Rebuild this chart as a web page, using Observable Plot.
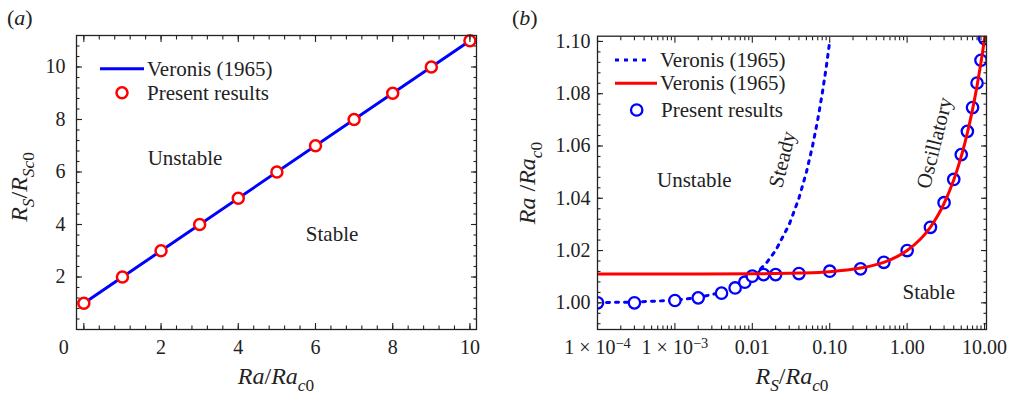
<!DOCTYPE html>
<html><head><meta charset="utf-8">
<script src="https://cdn.jsdelivr.net/npm/d3@7"></script>
<script src="https://cdn.jsdelivr.net/npm/@observablehq/plot@0.6"></script>
<style>
body{margin:0;background:#fff;}
#wrap{display:flex;width:1010px;height:396px;overflow:hidden;}
</style></head><body><div id="wrap"></div><script>
// ---------------- Panel (a) data ----------------
const raPresentA = [0, 1, 2, 3, 4, 5, 6, 7, 8, 9, 10];
const rsPresentA = [1, 2, 3, 4, 5, 6, 7, 8, 9, 10, 11];
const raVeronisA = [0, 10];
const rsVeronisA = [1, 11];
const xTicksA = [0, 2, 4, 6, 8, 10];
const yTicksA = [2, 4, 6, 8, 10];
const annTextA = ["Unstable", "Stable"];
const annXA = [2.62, 6.43];
const annYA = [6.54, 3.61];

// ---------------- Panel (b) data ----------------
const rsPresentB = [1e-4, 3e-4, 1e-3, 2e-3, 4e-3, 6e-3, 8e-3, 0.01, 0.014, 0.02, 0.04, 0.1, 0.25, 0.5, 1, 2, 3, 4, 5, 6, 7, 8, 9, 10];
const raPresentB = [1.000, 1.000, 1.0009, 1.0019, 1.0037, 1.0057, 1.0079, 1.0102, 1.0108, 1.0108, 1.0112, 1.0121, 1.0130, 1.0155, 1.0200, 1.0289, 1.0383, 1.0472, 1.0567, 1.0656, 1.0747, 1.0841, 1.0928, 1.1011];
const rsSteadyB = [1e-4, 3e-4, 1e-3, 2e-3, 4e-3, 6e-3, 8e-3, 0.01, 0.015, 0.02, 0.03, 0.04, 0.05, 0.06, 0.07, 0.08, 0.09, 0.1];
const raSteadyB = [1.0001, 1.0003, 1.001, 1.002, 1.004, 1.006, 1.008, 1.010, 1.015, 1.020, 1.030, 1.040, 1.050, 1.060, 1.070, 1.080, 1.090, 1.100];
const rsOscB = [1e-4, 1e-3, 0.01, 0.04, 0.1, 0.25, 0.5, 0.75, 1, 1.5, 2, 2.5, 3, 4, 5, 6, 7, 8, 9, 10, 10.6];
const raOscB = [1.011, 1.011, 1.0111, 1.0114, 1.0119, 1.0133, 1.0155, 1.0178, 1.0200, 1.0245, 1.0290, 1.0335, 1.0380, 1.0470, 1.0560, 1.0650, 1.0740, 1.0830, 1.0920, 1.1010, 1.1065];
const xTicksB = [1e-4, 1e-3, 0.01, 0.1, 1, 10];
const xTickLabelsB = ["1 × 10^−4", "1 × 10^−3", "0.01", "0.10", "1.00", "10.00"];
const yTicksB = [1.00, 1.02, 1.04, 1.06, 1.08, 1.10];
const annTextB = ["Unstable", "Steady", "Oscillatory", "Stable"];
const annXB = [1.78e-3, 0.0245, 2.26, 1.9];
const annYB = [1.0468, 1.0549, 1.0612, 1.0041];
const annRotB = [0, -76, -76, 0];

const INK = "#222";
const FONT = '"Liberation Serif", "Times New Roman", serif';
const BLUE = "#0000ff", RED = "#ff0000";
const DOTS = "3,6";

function tickAxes(xMajor, xMinor, yMajor, yMinor) {
  const common = {label: null, stroke: INK, strokeWidth: 1.1, fill: "none"};
  return [
    Plot.axisX(xMajor, {...common, anchor: "bottom", tickSize: -6}),
    Plot.axisX(xMajor, {...common, anchor: "top", tickSize: -6}),
    Plot.axisX(xMinor, {...common, anchor: "bottom", tickSize: -3.5}),
    Plot.axisX(xMinor, {...common, anchor: "top", tickSize: -3.5}),
    Plot.axisY(yMajor, {...common, anchor: "left", tickSize: -6}),
    Plot.axisY(yMajor, {...common, anchor: "right", tickSize: -6}),
    Plot.axisY(yMinor, {...common, anchor: "left", tickSize: -3.5}),
    Plot.axisY(yMinor, {...common, anchor: "right", tickSize: -3.5})
  ];
}

function rich(svg, {x, y, rotate = 0, size = 24, anchor = "middle", parts}) {
  const t = d3.select(svg).append("text")
    .attr("transform", `translate(${x},${y}) rotate(${rotate})`)
    .attr("text-anchor", anchor)
    .attr("font-size", size)
    .attr("font-family", FONT)
    .attr("fill", INK);
  let level = 0;
  for (const p of parts) {
    const sp = t.append("tspan").text(p.t);
    if (p.i) sp.attr("font-style", "italic");
    const target = p.sub ? 0.3 * size : 0;
    if (target !== level) { sp.attr("dy", target - level); level = target; }
    if (p.sub) sp.attr("font-size", size * 0.72);
  }
  return t;
}

function legend(svg, items) {
  const g = d3.select(svg).append("g").attr("font-family", FONT).attr("font-size", 21);
  for (const it of items) {
    if (it.kind === "line") {
      g.append("line").attr("x1", it.x1).attr("x2", it.x2).attr("y1", it.y).attr("y2", it.y)
        .attr("stroke", it.color).attr("stroke-width", 3).attr("stroke-dasharray", it.dash || null);
    } else {
      g.append("circle").attr("cx", it.cx).attr("cy", it.y).attr("r", it.r)
        .attr("stroke", it.color).attr("stroke-width", it.sw).attr("fill", "white");
    }
    g.append("text").attr("x", it.tx).attr("y", it.y).attr("dy", "0.33em")
      .attr("text-anchor", "start").attr("fill", INK).text(it.label);
  }
}

// ---------------- Panel (a) ----------------
const plotA = Plot.plot({
  width: 505, height: 396,
  marginLeft: 76, marginRight: 29, marginTop: 35, marginBottom: 67,
  style: {fontFamily: FONT, fontSize: "20px", color: INK, background: "white", overflow: "visible"},
  x: {domain: [-0.19, 10.17]},
  y: {domain: [0, 11.2]},
  marks: [
    Plot.line(raVeronisA, {x: raVeronisA, y: rsVeronisA, stroke: BLUE, strokeWidth: 3}),
    Plot.dot(raPresentA, {x: raPresentA, y: rsPresentA, r: 5.5, stroke: RED, strokeWidth: 2.5, fill: "white"}),
    Plot.text(annTextA, {x: annXA, y: annYA, text: annTextA, fontSize: 21, fill: INK}),
    ...tickAxes(xTicksA, d3.range(0, 10.01, 0.4), yTicksA, d3.range(0.4, 11.2, 0.4)),
    Plot.axisX(xTicksA.filter(d => d !== 0), {anchor: "bottom", tickSize: 0, tickPadding: 10, label: null, fill: INK}),
    Plot.axisX(xTicksA.filter(d => d === 0), {anchor: "bottom", tickSize: 0, tickPadding: 10, dx: -20, label: null, fill: INK}),
    Plot.axisY(yTicksA, {anchor: "left", tickSize: 0, tickPadding: 11, label: null, fill: INK}),
    Plot.frame({stroke: INK, strokeWidth: 1.3})
  ]
});

// ---------------- Panel (b) ----------------
const minorB = [];
for (const dec of [1e-4, 1e-3, 1e-2, 1e-1, 1]) for (let k = 2; k <= 9; k++) minorB.push(k * dec);
const plotB = Plot.plot({
  width: 505, height: 396,
  marginLeft: 92, marginRight: 24, marginTop: 35.7, marginBottom: 67,
  style: {fontFamily: FONT, fontSize: "20px", color: INK, background: "white", overflow: "visible"},
  x: {type: "log", domain: [1e-4, 10.6]},
  y: {domain: [0.9898, 1.102]},
  marks: [
    Plot.line(rsSteadyB, {x: rsSteadyB, y: raSteadyB, stroke: BLUE, strokeWidth: 3, strokeDasharray: DOTS, clip: true}),
    Plot.dot(rsPresentB, {x: rsPresentB, y: raPresentB, r: 5.7, stroke: BLUE, strokeWidth: 2.3, fill: "white", clip: true}),
    Plot.line(rsOscB, {x: rsOscB, y: raOscB, stroke: RED, strokeWidth: 3, curve: "catmull-rom", clip: true}),
    Plot.text(annTextB, {x: annXB, y: annYB, text: annTextB, rotate: annRotB, fontSize: 21, fill: INK}),
    ...tickAxes(xTicksB, minorB, yTicksB, d3.range(0.992, 1.1025, 0.004)),
    Plot.axisX(xTicksB, {anchor: "bottom", tickSize: 0, tickPadding: 10, label: null, fill: INK,
      tickFormat: d => xTickLabelsB[xTicksB.indexOf(d)]}),
    Plot.axisY(yTicksB, {anchor: "left", tickSize: 0, tickPadding: 7, label: null, fill: INK, tickFormat: d3.format(".2f")}),
    Plot.frame({stroke: INK, strokeWidth: 1.3})
  ]
});

// superscripts in tick labels
d3.select(plotB).selectAll("text").each(function() {
  const s = this.textContent;
  if (s.includes("^") && this.children.length === 0) {
    const [a, b] = s.split("^");
    this.textContent = a;
    d3.select(this).append("tspan").attr("dy", "-0.42em").attr("font-size", "0.72em").text(b);
  }
});

// axis titles and panel tags
rich(plotA, {x: 276, y: 384, parts: [{t: "Ra", i: 1}, {t: "/"}, {t: "Ra", i: 1}, {t: "c", i: 1, sub: 1}, {t: "0", sub: 1}]});
rich(plotA, {x: 27, y: 187, rotate: -90, parts: [{t: "R", i: 1}, {t: "S", i: 1, sub: 1}, {t: "/"}, {t: "R", i: 1}, {t: "Sc", i: 1, sub: 1}, {t: "0", sub: 1}]});
rich(plotA, {x: 7, y: 25, size: 22, anchor: "start", parts: [{t: "("}, {t: "a", i: 1}, {t: ")"}]});
rich(plotB, {x: 287, y: 384, parts: [{t: "R", i: 1}, {t: "S", i: 1, sub: 1}, {t: "/"}, {t: "Ra", i: 1}, {t: "c", i: 1, sub: 1}, {t: "0", sub: 1}]});
rich(plotB, {x: 30, y: 183, rotate: -90, parts: [{t: "Ra", i: 1}, {t: " /"}, {t: "Ra", i: 1}, {t: "c", i: 1, sub: 1}, {t: "0", sub: 1}]});
rich(plotB, {x: 7, y: 25, size: 22, anchor: "start", parts: [{t: "("}, {t: "b", i: 1}, {t: ")"}]});

// legends
legend(plotA, [
  {kind: "line", x1: 100, x2: 144, y: 68.7, color: BLUE, tx: 147, label: "Veronis (1965)"},
  {kind: "dot", cx: 122, r: 5.5, sw: 2.5, y: 92.7, color: RED, tx: 147, label: "Present results"}
]);
legend(plotB, [
  {kind: "line", x1: 110, x2: 146, y: 60, color: BLUE, dash: "4,5", tx: 155, label: "Veronis (1965)"},
  {kind: "line", x1: 110, x2: 152, y: 83.3, color: RED, tx: 155, label: "Veronis (1965)"},
  {kind: "dot", cx: 131.7, r: 5.7, sw: 2.3, y: 110, color: BLUE, tx: 156, label: "Present results"}
]);

document.getElementById("wrap").append(plotA, plotB);
</script></body></html>
